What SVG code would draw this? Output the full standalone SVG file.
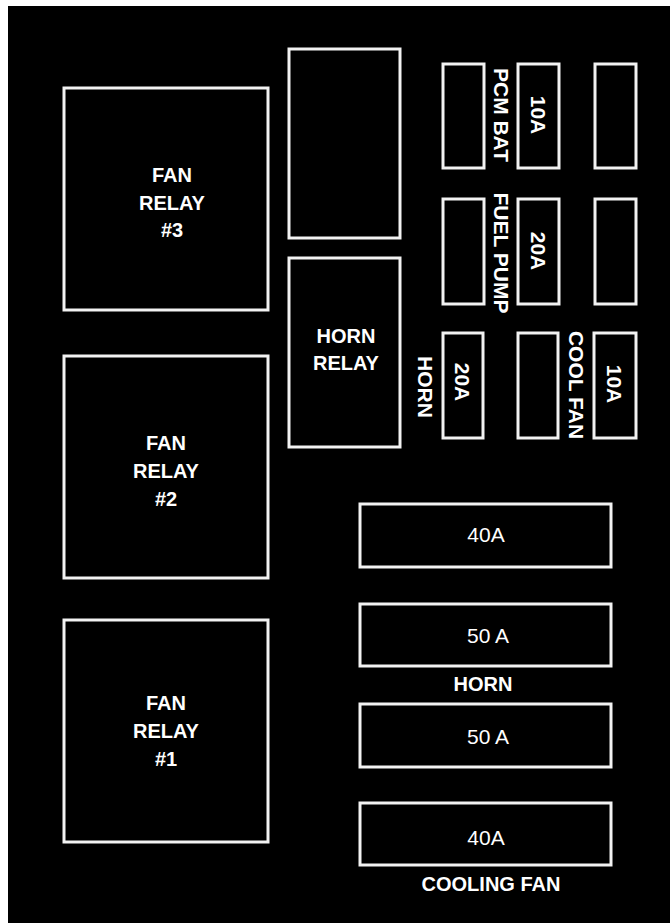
<svg xmlns="http://www.w3.org/2000/svg" width="670" height="923" viewBox="0 0 670 923">
<style>
.box{fill:#000;stroke:#f2f2f2;stroke-width:3}
.b{font-family:"Liberation Sans",Arial,sans-serif;font-weight:bold;font-size:20px;fill:#fff;text-anchor:middle}
.v{font-family:"Liberation Sans",Arial,sans-serif;font-weight:bold;font-size:21px;fill:#fff;text-anchor:middle}
.r{font-family:"Liberation Sans",Arial,sans-serif;font-size:21px;fill:#fff;text-anchor:middle}
</style>
<rect x="0" y="0" width="670" height="923" fill="#fff"/>
<rect x="8" y="6" width="662" height="917" fill="#000"/>
<g id="fan-relay-3">
<rect class="box" x="64" y="88" width="204" height="222"/>
<text class="b" x="172" y="182">FAN</text>
<text class="b" x="172" y="210">RELAY</text>
<text class="b" x="172" y="237">#3</text>
</g>
<g id="fan-relay-2">
<rect class="box" x="64" y="356" width="204" height="222"/>
<text class="b" x="166" y="450">FAN</text>
<text class="b" x="166" y="478">RELAY</text>
<text class="b" x="166" y="506">#2</text>
</g>
<g id="fan-relay-1">
<rect class="box" x="64" y="620" width="204" height="222"/>
<text class="b" x="166" y="710">FAN</text>
<text class="b" x="166" y="738">RELAY</text>
<text class="b" x="166" y="766">#1</text>
</g>
<g id="relay-empty">
<rect class="box" x="289" y="49" width="111" height="189"/>
</g>
<g id="horn-relay">
<rect class="box" x="289" y="258" width="111" height="189"/>
<text class="b" x="346" y="343">HORN</text>
<text class="b" x="346" y="370">RELAY</text>
</g>
<g id="fuse-r1-a"><rect class="box" x="443" y="64" width="41" height="104"/></g>
<g id="label-pcm-bat"><text class="v" transform="translate(501,115) rotate(90)" x="0" y="7.5">PCM BAT</text></g>
<g id="fuse-pcm-bat"><rect class="box" x="518" y="64" width="41" height="104"/>
<text class="v" transform="translate(538,115) rotate(90)" x="0" y="7.5">10A</text></g>
<g id="fuse-r1-c"><rect class="box" x="595" y="64" width="41" height="104"/></g>
<g id="fuse-r2-a"><rect class="box" x="443" y="199" width="41" height="105"/></g>
<g id="label-fuel-pump"><text class="v" transform="translate(501,253) rotate(90)" x="0" y="7.5">FUEL PUMP</text></g>
<g id="fuse-fuel-pump"><rect class="box" x="518" y="199" width="41" height="105"/>
<text class="v" transform="translate(538,251) rotate(90)" x="0" y="7.5">20A</text></g>
<g id="fuse-r2-c"><rect class="box" x="595" y="199" width="41" height="105"/></g>
<g id="label-horn-v"><text class="v" transform="translate(425,387) rotate(90)" x="0" y="7.5">HORN</text></g>
<g id="fuse-horn"><rect class="box" x="443" y="333" width="40" height="105"/>
<text class="v" transform="translate(462,382) rotate(90)" x="0" y="7.5">20A</text></g>
<g id="fuse-r3-b"><rect class="box" x="518" y="333" width="40" height="105"/></g>
<g id="label-cool-fan"><text class="v" transform="translate(576,385) rotate(90)" x="0" y="7.5">COOL FAN</text></g>
<g id="fuse-cool-fan"><rect class="box" x="594" y="333" width="42" height="105"/>
<text class="v" transform="translate(614,384) rotate(90)" x="0" y="7.5">10A</text></g>
<g id="maxi-40a-1"><rect class="box" x="360" y="504" width="251" height="63"/>
<text class="r" x="486" y="542">40A</text></g>
<g id="maxi-50a-horn"><rect class="box" x="360" y="604" width="251" height="62"/>
<text class="r" x="488" y="643">50 A</text>
<text class="b" x="483" y="691">HORN</text></g>
<g id="maxi-50a-2"><rect class="box" x="360" y="704" width="251" height="63"/>
<text class="r" x="488" y="744">50 A</text></g>
<g id="maxi-40a-cooling"><rect class="box" x="360" y="803" width="251" height="62"/>
<text class="r" x="486" y="845">40A</text>
<text class="b" x="491" y="891">COOLING FAN</text></g>
<g id="connectors"></g>
</svg>
